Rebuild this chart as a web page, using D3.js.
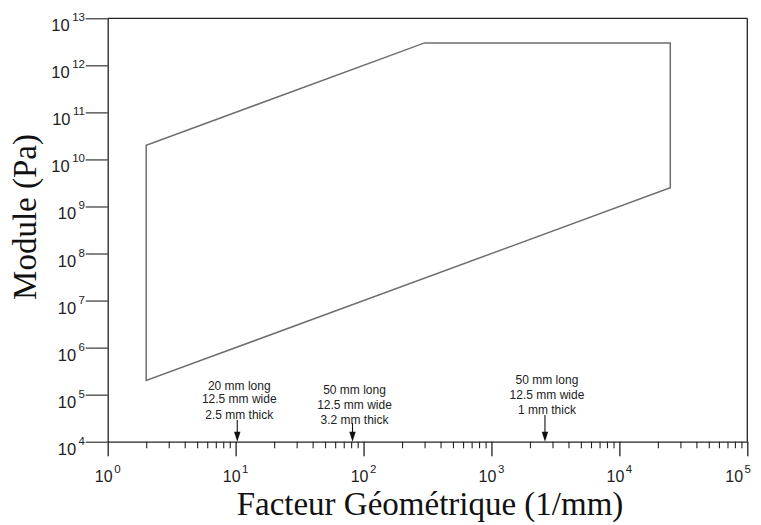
<!DOCTYPE html>
<html>
<head>
<meta charset="utf-8">
<script src="https://cdn.jsdelivr.net/npm/d3@7"></script>
<style>
  html, body { margin: 0; padding: 0; background: #fff; }
  svg { display: block; }
  .tick-label { font-family: "Liberation Sans", Arial, sans-serif; fill: #222; }
  .title { font-family: "Liberation Serif", "Times New Roman", serif; fill: #111; }
  .note { font-family: "Liberation Sans", Arial, sans-serif; font-size: 12px; fill: #222; }
</style>
</head>
<body>
<svg id="chart" width="761" height="525"></svg>
<script>
// Domains of the two log axes
const xDomain = [1, 1e5];
const yDomain = [1e4, 1e13];

// Decade exponents used for the tick labels
const xExponents = [0, 1, 2, 3, 4, 5];
const yExponents = [4, 5, 6, 7, 8, 9, 10, 11, 12, 13];

// Envelope of the modulus range versus geometric factor (closed polygon)
const envelopeFactor  = [2, 2, 300, 25000, 25000];
const envelopeModulus = [2e5, 2e10, 3e12, 3e12, 2.5e9];

// Sample geometries marked on the axis
const sampleFactor = [10.3, 82, 2620];
const sampleLines = [
  ["20 mm long", "12.5 mm wide", "2.5 mm thick"],
  ["50 mm long", "12.5 mm wide", "3.2 mm thick"],
  ["50 mm long", "12.5 mm wide", "1 mm thick"]
];

const xTitle = "Facteur Géométrique (1/mm)";
const yTitle = "Module (Pa)";

// ---------------------------------------------------------------
const svg = d3.select("#chart");
const plotLeft = 107.7, plotRight = 747.3, plotTop = 18.3, plotBottom = 441.7;

const x = d3.scaleLog().domain(xDomain).range([plotLeft, plotRight]);
const y = d3.scaleLog().domain(yDomain).range([plotBottom, plotTop]);

const axisColor = "#222";

// x ticks: minor at 2..9 of each decade, major at each power of ten
const xMinor = [];
for (let e = xExponents[0]; e < xExponents[xExponents.length - 1]; e++) {
  for (let m = 2; m <= 9; m++) xMinor.push(m * Math.pow(10, e));
}
const xMajor = xExponents.map(e => Math.pow(10, e));

const xAxis = svg.append("g")
  .attr("transform", `translate(0,${plotBottom})`)
  .call(d3.axisBottom(x)
    .tickValues(xMajor.concat(xMinor))
    .tickSize(6.5)
    .tickSizeOuter(0)
    .tickFormat(() => ""));
xAxis.select(".domain").attr("stroke", axisColor).attr("stroke-width", 1.3);
xAxis.selectAll(".tick line")
  .attr("stroke", axisColor).attr("stroke-width", 1.1)
  .filter(d => xMajor.includes(d))
  .attr("y2", 14.5).attr("stroke-width", 1.3);

// y ticks: majors only, pointing left
const yMajor = yExponents.map(e => Math.pow(10, e));
const yAxis = svg.append("g")
  .attr("transform", `translate(${plotLeft},0)`)
  .call(d3.axisLeft(y)
    .tickValues(yMajor)
    .tickSize(22)
    .tickSizeOuter(0)
    .tickFormat(() => ""));
yAxis.select(".domain").attr("stroke", axisColor).attr("stroke-width", 1.3);
yAxis.selectAll(".tick line").attr("stroke", axisColor).attr("stroke-width", 1.1);

// Frame: top and right edges
svg.append("line")
  .attr("x1", plotLeft).attr("x2", plotRight).attr("y1", plotTop).attr("y2", plotTop)
  .attr("stroke", axisColor).attr("stroke-width", 1.3);
svg.append("line")
  .attr("x1", plotRight).attr("x2", plotRight).attr("y1", plotTop).attr("y2", plotBottom)
  .attr("stroke", axisColor).attr("stroke-width", 1.3);

// x tick labels: 10 with superscript exponent
const xLabels = svg.append("g");
xExponents.forEach(e => {
  const t = xLabels.append("text")
    .attr("class", "tick-label")
    .attr("x", x(Math.pow(10, e)))
    .attr("y", 482)
    .attr("text-anchor", "middle")
    .style("font-size", "16px");
  t.append("tspan").text("10");
  t.append("tspan").attr("dx", 1.5).attr("dy", -9.5)
    .style("font-size", "11.5px").text(e);
  // keep the last label inside the page
  const bb = t.node().getBBox();
  if (bb.x + bb.width > 751) t.attr("x", x(Math.pow(10, e)) - (bb.x + bb.width - 751));
});

// y tick labels
const yLabels = svg.append("g");
yExponents.forEach(e => {
  const ty = y(Math.pow(10, e));
  const t = yLabels.append("text")
    .attr("class", "tick-label")
    .attr("x", 85)
    .attr("y", ty + 13)
    .attr("text-anchor", "end")
    .style("font-size", "16.5px");
  t.append("tspan").text("10");
  t.append("tspan").attr("dx", 2.5).attr("dy", -10)
    .style("font-size", "11.5px").text(e);
});

// Envelope polygon
const envelope = envelopeFactor.map((f, i) => [x(f), y(envelopeModulus[i])]);
svg.append("path")
  .attr("d", d3.line()(envelope) + "Z")
  .attr("fill", "none")
  .attr("stroke", "#6e6e6e")
  .attr("stroke-width", 1.5)
  .attr("stroke-linejoin", "miter");

// Sample arrows and their descriptions
const notePlacement = [
  { arrowTop: 420, baselines: [-30.5, -17.5, -1] },
  { arrowTop: 423, baselines: [-29, -14.5, 0.5] },
  { arrowTop: 415, baselines: [-31.5, -16, -1.5] }
];
const notes = svg.append("g");
sampleFactor.forEach((f, i) => {
  const ax = x(f);
  const p = notePlacement[i];
  notes.append("line")
    .attr("x1", ax).attr("x2", ax)
    .attr("y1", p.arrowTop).attr("y2", plotBottom - 8)
    .attr("stroke", "#111").attr("stroke-width", 1.1);
  notes.append("path")
    .attr("d", d3.line()([[ax - 3.2, plotBottom - 10], [ax + 3.2, plotBottom - 10], [ax, plotBottom]]) + "Z")
    .attr("fill", "#111");
  sampleLines[i].forEach((txt, j) => {
    notes.append("text")
      .attr("class", "note")
      .attr("x", ax + 2)
      .attr("y", p.arrowTop + p.baselines[j])
      .attr("text-anchor", "middle")
      .text(txt);
  });
});

// Axis titles
svg.append("text")
  .attr("class", "title")
  .attr("transform", `translate(35.5,217) rotate(-90)`)
  .attr("text-anchor", "middle")
  .style("font-size", "33px")
  .text(yTitle);

svg.append("text")
  .attr("class", "title")
  .attr("x", 430)
  .attr("y", 515)
  .attr("text-anchor", "middle")
  .style("font-size", "33px")
  .text(xTitle);
</script>
</body>
</html>
